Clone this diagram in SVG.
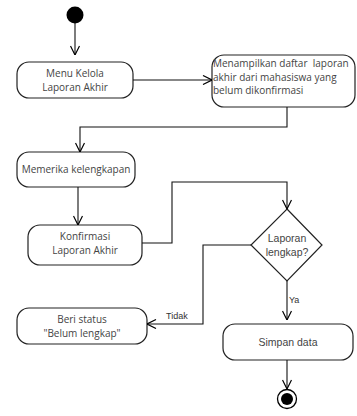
<svg xmlns="http://www.w3.org/2000/svg" width="357" height="416" viewBox="0 0 357 416">
<defs>
<marker id="arr" viewBox="0 0 10 10" refX="10" refY="5" markerWidth="10" markerHeight="10" markerUnits="userSpaceOnUse" orient="auto">
<path d="M1,0.5 L10,5 L1,9.5" fill="none" stroke="#000" stroke-width="1.2"/>
</marker>
<style>
.box{fill:#fff;stroke:#222;stroke-width:1.2}
.seg{font-family:"Open Sans","Noto Sans",sans-serif;font-size:10px;fill:#444;white-space:pre}
.ari{font-family:"Liberation Sans",Arial,sans-serif;font-size:10.5px;fill:#444}
.lbl{font-family:"Liberation Sans",Arial,sans-serif;font-size:9px;fill:#333}
.c{text-anchor:middle}
.ln{fill:none;stroke:#111;stroke-width:1.1;marker-end:url(#arr)}
</style>
</defs>
<rect width="357" height="416" fill="#fff"/>
<g id="start"><circle cx="75" cy="15" r="8.5" fill="#000"/></g>
<g id="menu"><rect class="box" x="17" y="62" width="116" height="36" rx="12"/>
<text class="seg c" x="75" y="77">Menu Kelola</text><text class="seg c" x="75" y="91">Laporan Akhir</text></g>
<g id="tampil"><rect class="box" x="212" y="55" width="143" height="52" rx="12"/>
<text class="seg" x="213" y="67" xml:space="preserve">Menampilkan daftar  laporan</text>
<text class="seg" x="213" y="81">akhir dari mahasiswa yang</text>
<text class="seg" x="213" y="94">belum dikonfirmasi</text></g>
<g id="periksa"><rect class="box" x="17" y="152" width="118" height="35" rx="12"/>
<text class="seg c" x="76" y="173">Memerika kelengkapan</text></g>
<g id="konfirmasi"><rect class="box" x="28" y="225" width="114" height="40" rx="12"/>
<text class="seg c" x="85" y="240">Konfirmasi</text><text class="seg c" x="85" y="254">Laporan Akhir</text></g>
<g id="decision"><polygon class="box" points="287,209 322,245 287,281 251,245"/>
<text class="ari c" x="287" y="242">Laporan</text><text class="ari c" x="287" y="256">lengkap?</text></g>
<g id="beri"><rect class="box" x="17" y="308" width="130" height="36" rx="12"/>
<text class="seg c" x="82" y="323">Beri status</text><text class="seg c" x="82" y="337">"Belum lengkap"</text></g>
<g id="simpan"><rect class="box" x="223" y="324" width="130" height="36" rx="12"/>
<text class="ari c" x="288" y="346">Simpan data</text></g>
<g id="end"><circle cx="287" cy="399" r="9.5" fill="#fff" stroke="#000" stroke-width="1.3"/><circle cx="287" cy="399" r="6" fill="#000"/></g>
<g id="connectors">
<path class="ln" d="M75,23 L75,55"/>
<path class="ln" d="M133,80 L212,80"/>
<path class="ln" d="M287,107 L287,127 L80,127 L80,152"/>
<path class="ln" d="M78,187 L78,225"/>
<path class="ln" d="M142,243 L172,243 L172,182 L287,182 L287,209"/>
<path class="ln" d="M251,245 L203,245 L203,324 L147,324"/>
<path class="ln" d="M287,281 L287,320"/>
<path class="ln" d="M287,360 L287,389"/>
<text class="lbl" x="166" y="319">Tidak</text>
<text class="lbl" x="289" y="303">Ya</text>
</g>
</svg>
